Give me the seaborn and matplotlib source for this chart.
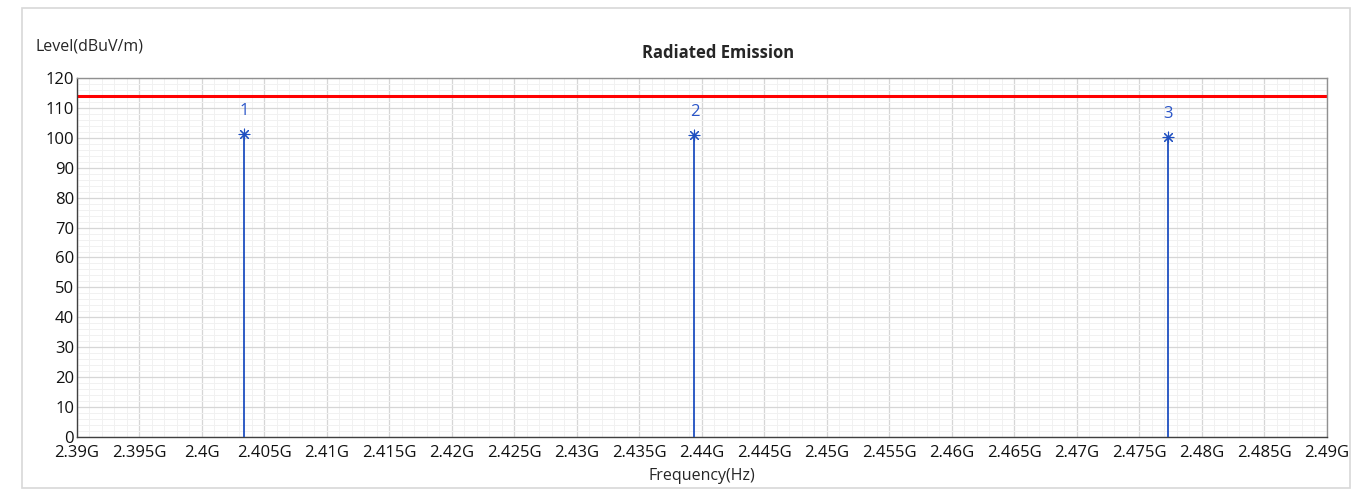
import matplotlib
matplotlib.use('Agg')
import matplotlib.pyplot as plt
from matplotlib.ticker import MultipleLocator, AutoMinorLocator, FuncFormatter
from matplotlib.patches import Rectangle
import numpy as np
import seaborn as sns

# peaks
peak_ids = ['1', '2', '3']
peak_freq_ghz = [2.4034, 2.4394, 2.4773]
peak_level = [101.3, 101.0, 100.3]
limit_level = 114.0
x_ticks_ghz = np.round(np.arange(2.39, 2.4901, 0.005), 3)

sns.set_theme(style='white')
plt.rcParams['font.family'] = ['Open Sans', 'DejaVu Sans']

fig = plt.figure(figsize=(13.62, 4.92), dpi=100)
ax = fig.add_axes([0.0565, 0.1118, 0.9178, 0.7297])

# light frame around the whole chart
fig.patches.append(Rectangle((0.016, 0.008), 0.975, 0.975, transform=fig.transFigure,
                             fill=False, edgecolor='#d8d8d8', linewidth=1.2))

ax.set_xlim(2.39, 2.49)
ax.set_ylim(0, 120)

ax.xaxis.set_major_locator(MultipleLocator(0.005))
ax.xaxis.set_minor_locator(AutoMinorLocator(5))
ax.yaxis.set_major_locator(MultipleLocator(10))
ax.yaxis.set_minor_locator(AutoMinorLocator(5))
ax.xaxis.set_major_formatter(FuncFormatter(lambda v, p: ('%.3f' % v).rstrip('0').rstrip('.') + 'G'))

ax.grid(which='major', color='#d6d6d6', linewidth=0.9)
ax.grid(which='minor', color='#f1f1f1', linewidth=0.7)
ax.set_axisbelow(True)

# limit line
sns.lineplot(x=[x_ticks_ghz[0], x_ticks_ghz[-1]], y=[limit_level, limit_level],
             color='#ff0000', linewidth=2.2, ax=ax)

# peak stems and markers
ax.vlines(peak_freq_ghz, 0, peak_level, color='#1f4fc0', linewidth=1.3, zorder=3)
sns.scatterplot(x=peak_freq_ghz, y=peak_level, marker=(8, 2, 0), s=60,
                color='#1f4fc0', linewidth=0.8, ax=ax, zorder=4)
for pid, f, lv in zip(peak_ids, peak_freq_ghz, peak_level):
    ax.text(f, lv + 5.0, pid, color='#2a55c8', fontsize=12, ha='center', va='bottom')

for side in ['top', 'right']:
    ax.spines[side].set_color('#909090')
for side in ['left', 'bottom']:
    ax.spines[side].set_color('#404040')
for s in ax.spines.values():
    s.set_linewidth(1.0)

ax.tick_params(axis='both', which='both', length=0, labelsize=12, colors='#111111')
ax.tick_params(axis='x', pad=6)
ax.tick_params(axis='y', pad=2)

ax.set_xlabel('Frequency(Hz)', fontsize=11.5, labelpad=5)
ax.set_ylabel('')
fig.text(0.026, 0.905, 'Level(dBuV/m)', fontsize=11.5, ha='left', va='center')
fig.text(0.527, 0.893, 'Radiated Emission', fontsize=12, fontweight='bold',
         ha='center', va='center')

fig.savefig('out.png', dpi=100, facecolor='white')
